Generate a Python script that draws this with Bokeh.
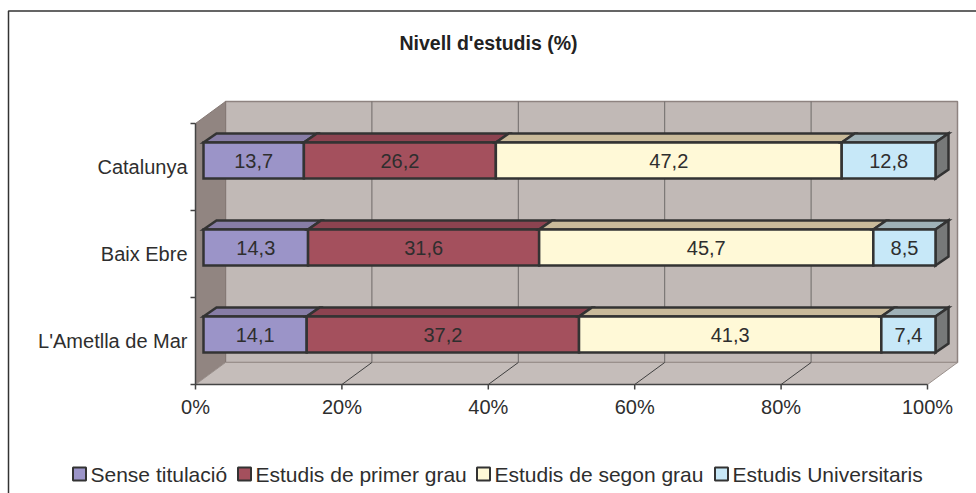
from bokeh.plotting import figure
from bokeh.models import Range1d
from bokeh.embed import file_html
from bokeh.resources import INLINE
from bokeh.core.properties import value

# ---------------- data ----------------
title_text = "Nivell d'estudis (%)"
categories = ["L'Ametlla de Mar", "Baix Ebre", "Catalunya"]  # bottom -> top
series_names = ["Sense titulació", "Estudis de primer grau",
                "Estudis de segon grau", "Estudis Universitaris"]
sense_titulacio = [14.1, 14.3, 13.7]
primer_grau = [37.2, 31.6, 26.2]
segon_grau = [41.3, 45.7, 47.2]
universitaris = [7.4, 8.5, 12.8]
x_ticks = [0, 20, 40, 60, 80, 100]
x_tick_labels = ["0%", "20%", "40%", "60%", "80%", "100%"]

series_values = [sense_titulacio, primer_grau, segon_grau, universitaris]

# ---------------- style ----------------
FONT = value("Liberation Sans")
front_colors = ["#9B94C8", "#A4505D", "#FFF9D7", "#C7E8F8"]
top_colors = ["#877DA6", "#8C4350", "#C9BA9A", "#9FB1B7"]
side_color = "#777979"
edge_color = "#333333"
text_color = "#2E2E2E"

W, H = 976, 493
PX_PCT = 7.32      # pixels per percent
PX_CAT = 87.0      # pixels per category band
OX, OY = 195, 384  # screen position of front-plane origin (0%, bottom)

def sx(px):
    return (px - OX) / PX_PCT

def sy(py):
    return (OY - py) / PX_CAT

def dxp(px):
    return px / PX_PCT

def dyp(py):
    return py / PX_CAT

p = figure(width=W, height=H, output_backend="svg", toolbar_location=None,
           x_range=Range1d(sx(0), sx(W)), y_range=Range1d(sy(H), sy(0)),
           x_axis_location=None, y_axis_location=None, min_border=0)
p.grid.visible = False
p.outline_line_color = None
p.background_fill_color = "white"
p.border_fill_color = "white"

ncat = len(categories)
WALL_DX, WALL_DY = dxp(30), dyp(22)

# outer frame (chart area border)
p.line([sx(8), sx(8), sx(1000)], [sy(600), sy(10.5), sy(10.5)],
       line_color="#333333", line_width=1.5)

# back wall
p.quad(left=[WALL_DX], right=[100 + WALL_DX], bottom=[WALL_DY], top=[ncat + WALL_DY],
       fill_color="#C1B9B6", line_color="#8E8380", line_width=1.5)
# left wall
p.patch([0, 0, WALL_DX, WALL_DX], [0, ncat, ncat + WALL_DY, WALL_DY],
        fill_color="#918581", line_color="#857975", line_width=1)
# floor
p.patch([0, 100, 100 + WALL_DX, WALL_DX], [0, 0, WALL_DY, WALL_DY],
        fill_color="#C5BDBA", line_color="#9A908C", line_width=1)

inner = [t for t in x_ticks if 0 < t < 100]
# back wall gridlines
p.segment(x0=[t + WALL_DX for t in inner], y0=[WALL_DY] * len(inner),
          x1=[t + WALL_DX for t in inner], y1=[ncat + WALL_DY] * len(inner),
          line_color="#6E6A69", line_width=1)
# floor gridlines
p.segment(x0=inner, y0=[0] * len(inner),
          x1=[t + WALL_DX for t in inner], y1=[WALL_DY] * len(inner),
          line_color="#3F3F3F", line_width=1)

# axes lines
p.segment(x0=[0, 0], y0=[0, 0], x1=[100, 0], y1=[0, ncat],
          line_color="#444444", line_width=1.5)
# bottom ticks
p.segment(x0=x_ticks, y0=[0] * len(x_ticks), x1=x_ticks, y1=[-dyp(5)] * len(x_ticks),
          line_color="#444444", line_width=1.5)
# left ticks at category boundaries
bounds = list(range(ncat + 1))
p.segment(x0=[0] * len(bounds), y0=bounds, x1=[-dxp(5)] * len(bounds), y1=bounds,
          line_color="#444444", line_width=1.5)

# tick labels
p.text(x=x_ticks, y=[-dyp(22)] * len(x_ticks), text=x_tick_labels,
       text_font=FONT, text_font_size="20px", text_color=text_color,
       text_align="center", text_baseline="middle")
p.text(x=[-dxp(8)] * ncat, y=[i + 0.5 for i in range(ncat)], text=categories,
       text_font=FONT, text_font_size="20px", text_color=text_color,
       text_align="right", text_baseline="middle")

# bars
FDX, FDY = dxp(8), dyp(6.5)
BDX, BDY = dxp(13), dyp(9)
HALF = dyp(18)
for i in range(ncat):
    vals = [s[i] for s in series_values]
    total = sum(vals)
    c = i + 0.5
    bottom, top = c - HALF + FDY, c + HALF + FDY
    cum = 0.0
    for j, v in enumerate(vals):
        x0 = cum / total * 100
        cum += v
        x1 = cum / total * 100
        a, b = x0 + FDX, x1 + FDX
        # top face
        p.patch([a, b, b + BDX, a + BDX], [top, top, top + BDY, top + BDY],
                fill_color=top_colors[j], line_color=edge_color, line_width=2.5,
                line_join="miter")
        # side face for last segment
        if j == len(vals) - 1:
            p.patch([b, b + BDX, b + BDX, b], [bottom, bottom + BDY, top + BDY, top],
                    fill_color=side_color, line_color=edge_color, line_width=2.5,
                    line_join="miter")
        # front face
        p.quad(left=[a], right=[b], bottom=[bottom], top=[top],
               fill_color=front_colors[j], line_color=edge_color, line_width=2.5,
               line_join="miter")
        p.text(x=[(a + b) / 2], y=[c + FDY], text=[f"{v:.1f}".replace(".", ",")],
               text_font=FONT, text_font_size="20px", text_color=text_color,
               text_align="center", text_baseline="middle")

# title
p.text(x=[sx(488)], y=[sy(42)], text=[title_text], text_font=FONT,
       text_font_size="19.5px", text_font_style="bold", text_color="#222222",
       text_align="center", text_baseline="middle")

# legend
leg_x = [72, 237, 476, 714]
leg_y = 473.5
p.rect(x=[sx(lx + 7) for lx in leg_x], y=[sy(leg_y)] * len(leg_x),
       width=13, height=13, width_units="screen", height_units="screen",
       fill_color=front_colors, line_color=edge_color, line_width=2)
p.text(x=[sx(lx + 18) for lx in leg_x], y=[sy(leg_y)] * len(leg_x), text=series_names,
       text_font=FONT, text_font_size="21px", text_color=text_color,
       text_align="left", text_baseline="middle")

open("out.html", "w").write(file_html(p, INLINE))
